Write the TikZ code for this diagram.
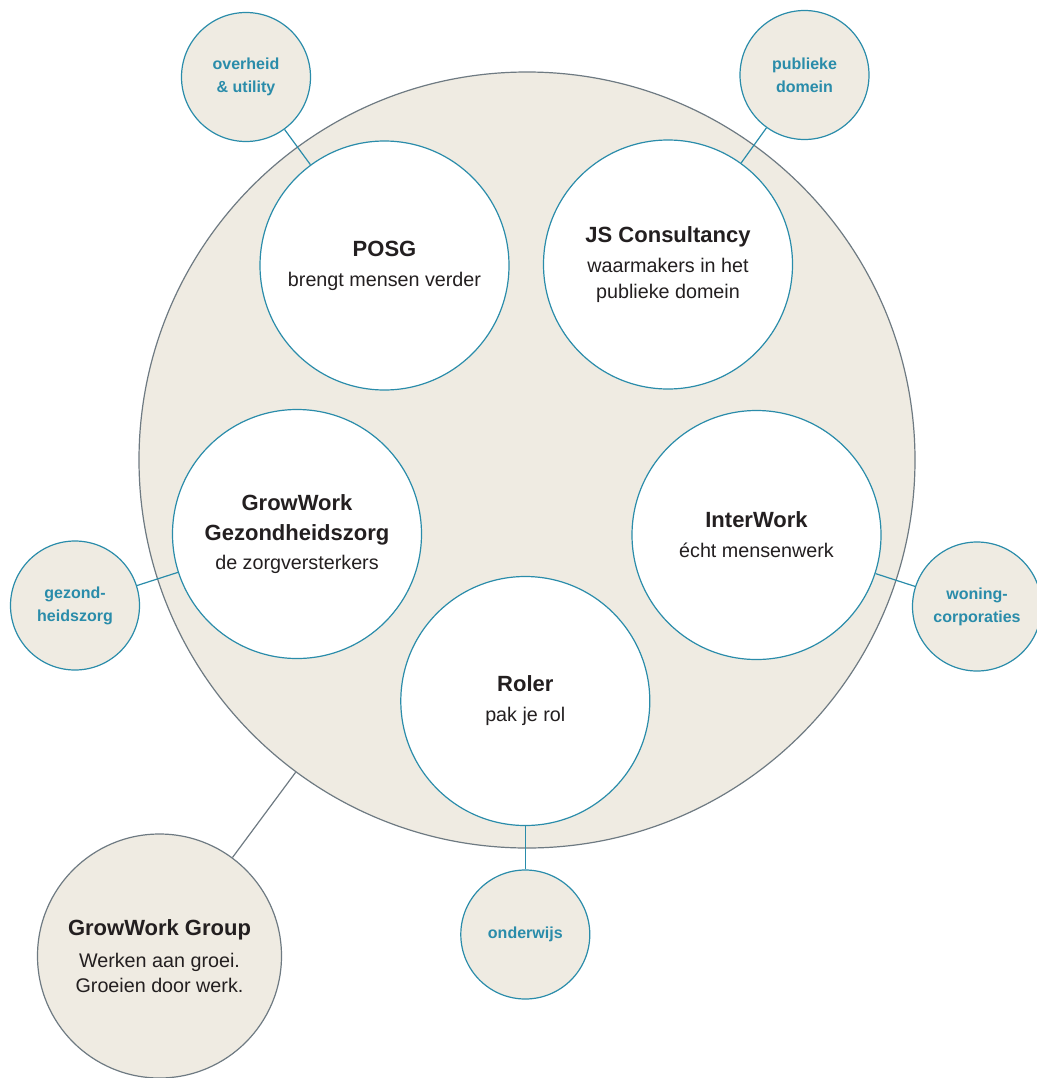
\documentclass[tikz,border=0pt]{standalone}
\usepackage{fontspec}
\setmainfont{Liberation Sans}
\definecolor{beige}{HTML}{EFEBE2}
\definecolor{tealc}{HTML}{2A8CAA}
\definecolor{grayc}{HTML}{6E7A82}
\definecolor{ink}{HTML}{231F20}
\tikzset{
  inner/.style={circle, draw=tealc, fill=white, line width=0.9pt, inner sep=0pt,
    minimum size=186.75pt, align=center, text=ink,
    font=\fontsize{14.8}{19.5}\selectfont},
  sector/.style={circle, draw=tealc, fill=beige, line width=0.9pt, inner sep=0pt,
    minimum size=96.75pt, align=center, text=tealc,
    font=\fontsize{12}{17.25}\selectfont\bfseries},
  cluster/.style={circle, draw=grayc, fill=beige, line width=0.9pt, inner sep=0pt,
    minimum size=582pt},
  holding/.style={circle, draw=grayc, fill=beige, line width=0.9pt, inner sep=0pt,
    minimum size=183pt, align=center, text=ink,
    font=\fontsize{14.8}{19pt}\selectfont},
  tlink/.style={draw=tealc, line width=0.9pt},
  glink/.style={draw=grayc, line width=0.9pt},
}
\newcommand{\ttl}[1]{{\fontsize{16.5}{19.5}\selectfont\bfseries #1}}
\begin{document}
\begin{tikzpicture}[x=0.75pt,y=-0.75pt]
\useasboundingbox (0,0) rectangle (1037,1078);
\node[cluster] (cl) at (527,460) {};
\node[inner] (posg) at (384.5,265.5) {\ttl{POSG}\\[3pt]brengt mensen verder};
\node[inner] (js) at (668,264.5) {\ttl{JS Consultancy}\\[3pt]waarmakers in het\\publieke domein};
\node[inner] (gz) at (297,534) {\ttl{GrowWork}\\[3pt]\ttl{Gezondheidszorg}\\[2pt]de zorgversterkers};
\node[inner] (iw) at (756.5,535) {\ttl{InterWork}\\[3pt]écht mensenwerk};
\node[inner] (ro) at (525.3,701) {\ttl{Roler}\\[3pt]pak je rol};
\node[sector] (ov) at (246,77) {overheid\\\& utility};
\node[sector] (pd) at (804.5,75) {publieke\\domein};
\node[sector] (ge) at (75,605.5) {gezond-\\heidszorg};
\node[sector] (wo) at (977,606.5) {woning-\\corporaties};
\node[sector] (on) at (525.3,934.5) {onderwijs};
\node[holding] (gg) at (159.5,956) {\ttl{GrowWork Group}\\[5pt]Werken aan groei.\\Groeien door werk.};
\draw[tlink] (ov) -- (posg);
\draw[tlink] (pd) -- (js);
\draw[tlink] (ge) -- (gz);
\draw[tlink] (wo) -- (iw);
\draw[tlink] (on) -- (ro);
\draw[glink] (cl) -- (gg);
\end{tikzpicture}
\end{document}
